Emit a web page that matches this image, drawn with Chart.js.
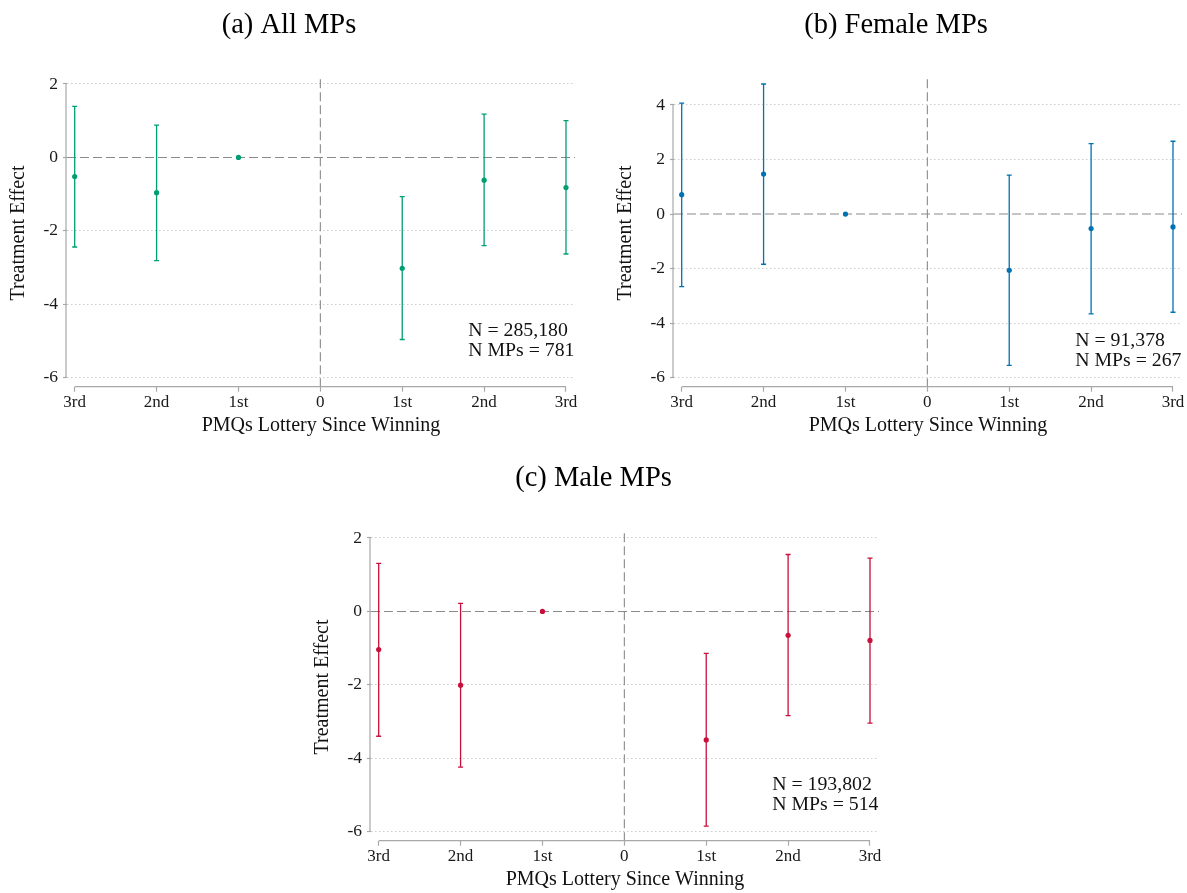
<!DOCTYPE html>
<html>
<head>
<meta charset="utf-8">
<script src="https://cdn.jsdelivr.net/npm/chart.js@4.4.1/dist/chart.umd.min.js"></script>
<style>
html,body{margin:0;padding:0;background:#fff;}
body{width:1187px;height:893px;position:relative;overflow:hidden;}
canvas{position:absolute;}
</style>
</head>
<body>
<canvas id="ca" width="584" height="442" style="left:3px;top:0px"></canvas>
<canvas id="cb" width="577" height="442" style="left:610px;top:0px"></canvas>
<canvas id="cc" width="590" height="443" style="left:308px;top:450px"></canvas>
<script>
// ---------- data ----------
const stepTicks  = [-3, -2, -1, 0, 1, 2, 3];
const stepLabels = ['3rd', '2nd', '1st', '0', '1st', '2nd', '3rd'];
const leadLag    = [-3, -2, -1, 1, 2, 3];

const allEst = [-0.52, -0.96, 0, -3.02, -0.62, -0.82];
const allLo  = [-2.44, -2.81, 0, -4.96, -2.40, -2.63];
const allHi  = [ 1.39,  0.88, 0, -1.07,  1.18,  1.00];

const femEst = [ 0.71,  1.47, 0, -2.06, -0.53, -0.47];
const femLo  = [-2.66, -1.84, 0, -5.55, -3.66, -3.60];
const femHi  = [ 4.07,  4.77, 0,  1.43,  2.58,  2.67];

const maleEst = [-1.04, -2.01, 0, -3.50, -0.65, -0.79];
const maleLo  = [-3.40, -4.24, 0, -5.85, -2.84, -3.04];
const maleHi  = [ 1.31,  0.22, 0, -1.14,  1.55,  1.45];

const yTicksAll    = [-6, -4, -2, 0, 2];
const yTicksFemale = [-6, -4, -2, 0, 2, 4];
const yTicksMale   = [-6, -4, -2, 0, 2];

const titles = ['(a) All MPs', '(b) Female MPs', '(c) Male MPs'];
const noteAll    = ['N = 285,180', 'N MPs = 781'];
const noteFemale = ['N = 91,378', 'N MPs = 267'];
const noteMale   = ['N = 193,802', 'N MPs = 514'];
const xTitle = 'PMQs Lottery Since Winning';
const yTitle = 'Treatment Effect';

// ---------- drawing ----------
const FONT = 'Liberation Serif';

const decor = {
  id: 'decor',
  beforeDatasetsDraw(chart, args, opts) {
    const {ctx, chartArea: a, scales: {x, y}} = chart;
    ctx.save();
    // reference lines
    ctx.strokeStyle = '#8a8a8a';
    ctx.lineWidth = 1.1;
    ctx.setLineDash([9, 4]);
    const y0 = y.getPixelForValue(0);
    ctx.beginPath(); ctx.moveTo(a.left, y0); ctx.lineTo(a.right, y0); ctx.stroke();
    const x0 = x.getPixelForValue(0);
    ctx.beginPath(); ctx.moveTo(x0, a.top); ctx.lineTo(x0, a.bottom); ctx.stroke();
    ctx.setLineDash([]);
    // axis lines (span tick range only)
    ctx.strokeStyle = '#a8a8a8';
    ctx.lineWidth = 1.2;
    const yt = y.ticks, xt = x.ticks;
    ctx.beginPath();
    ctx.moveTo(a.left - 1, y.getPixelForValue(yt[0].value));
    ctx.lineTo(a.left - 1, y.getPixelForValue(yt[yt.length - 1].value));
    ctx.stroke();
    ctx.beginPath();
    ctx.moveTo(x.getPixelForValue(xt[0].value), a.bottom);
    ctx.lineTo(x.getPixelForValue(xt[xt.length - 1].value), a.bottom);
    ctx.stroke();
    // error bars
    chart.data.datasets.forEach(ds => {
      ctx.strokeStyle = ds.borderColor;
      ctx.lineWidth = 1.3;
      ds.data.forEach(p => {
        if (p.lo === p.hi) return;
        const px = x.getPixelForValue(p.x);
        const pl = y.getPixelForValue(p.lo);
        const ph = y.getPixelForValue(p.hi);
        ctx.beginPath();
        ctx.moveTo(px, pl); ctx.lineTo(px, ph);
        ctx.moveTo(px - 2.5, pl); ctx.lineTo(px + 2.5, pl);
        ctx.moveTo(px - 2.5, ph); ctx.lineTo(px + 2.5, ph);
        ctx.stroke();
      });
    });
    ctx.restore();
  },
  afterDatasetsDraw(chart, args, opts) {
    const {ctx, scales: {x, y}} = chart;
    const lines = opts.note;
    ctx.save();
    ctx.font = '19.8px "' + FONT + '"';
    ctx.fillStyle = '#111';
    ctx.textBaseline = 'middle';
    ctx.textAlign = 'left';
    let w = 0;
    lines.forEach(t => { w = Math.max(w, ctx.measureText(t).width); });
    const right = x.getPixelForValue(3) + 8.5;
    const cy = y.getPixelForValue(-5);
    const lh = 20;
    lines.forEach((t, i) => {
      ctx.fillText(t, right - w, cy + (i - (lines.length - 1) / 2) * lh);
    });
    ctx.restore();
  }
};

function makePanel(id, cfg) {
  const data = leadLag.map((v, i) => ({x: v, y: cfg.est[i], lo: cfg.lo[i], hi: cfg.hi[i]}));
  return new Chart(document.getElementById(id), {
    type: 'scatter',
    data: {
      datasets: [{
        data: data,
        borderColor: cfg.color,
        backgroundColor: cfg.color,
        pointRadius: 2.6,
        pointBorderWidth: 0,
        pointBackgroundColor: cfg.color,
        showLine: false
      }]
    },
    options: {
      responsive: false,
      animation: false,
      devicePixelRatio: 1,
      layout: {padding: {left: 0, right: cfg.padRight, top: 0, bottom: 0}},
      plugins: {
        legend: {display: false},
        tooltip: {enabled: false},
        title: {
          display: true,
          text: cfg.title,
          color: '#000',
          font: {family: FONT, size: 28.5, weight: 'normal'},
          padding: {top: cfg.titleTop, bottom: cfg.titleBottom}
        },
        decor: {note: cfg.note}
      },
      scales: {
        x: {
          type: 'linear',
          bounds: 'data',
          min: -3.094,
          max: 3.11,
          afterBuildTicks: s => { s.ticks = stepTicks.map(v => ({value: v})); },
          afterFit: s => { s.height = cfg.xHeight; },
          ticks: {
            autoSkip: false,
            maxRotation: 0,
            padding: 1,
            color: '#1a1a1a',
            font: {family: FONT, size: 17},
            callback: (v, i) => stepLabels[i]
          },
          grid: {
            display: true,
            drawOnChartArea: false,
            drawTicks: true,
            tickLength: 5,
            tickColor: '#a8a8a8',
            tickWidth: 1.2
          },
          border: {display: false},
          title: {
            display: true,
            text: xTitle,
            color: '#111',
            font: {family: FONT, size: 20},
            padding: {top: 0, bottom: cfg.xTitleBottom}
          }
        },
        y: {
          type: 'linear',
          bounds: 'data',
          min: cfg.ymin,
          max: cfg.ymax,
          afterBuildTicks: s => { s.ticks = cfg.yTicks.map(v => ({value: v})); },
          afterFit: s => { s.width = cfg.yWidth; },
          ticks: {
            padding: 5,
            color: '#1a1a1a',
            font: {family: FONT, size: 17.5},
            callback: v => String(v)
          },
          grid: {
            display: true,
            drawOnChartArea: true,
            drawTicks: true,
            tickLength: 4,
            lineWidth: 1,
            color: c => (c.tick && c.tick.value === 0) ? 'rgba(0,0,0,0)' : '#cdcdcd',
            tickColor: '#a8a8a8',
            tickWidth: 1.2,
            tickBorderDash: []
          },
          border: {display: false, dash: [1.5, 2.5]},
          title: {
            display: true,
            text: yTitle,
            color: '#111',
            font: {family: FONT, size: 20},
            padding: {top: cfg.yTitleTop, bottom: 0}
          }
        }
      }
    },
    plugins: [decor]
  });
}

makePanel('ca', {
  title: titles[0], est: allEst, lo: allLo, hi: allHi, color: '#009E73',
  yTicks: yTicksAll, ymin: -6.245, ymax: 2.128, note: noteAll,
  padRight: 12, yWidth: 64, xHeight: 55.3,
  titleTop: 8.7, titleBottom: 36.4, xTitleBottom: 4.2, yTitleTop: 4
});
makePanel('cb', {
  title: titles[1], est: femEst, lo: femLo, hi: femHi, color: '#0072B2',
  yTicks: yTicksFemale, ymin: -6.33, ymax: 4.942, note: noteFemale,
  padRight: 5, yWidth: 64, xHeight: 55.3,
  titleTop: 8.7, titleBottom: 36.4, xTitleBottom: 4.2, yTitleTop: 4
});
makePanel('cc', {
  title: titles[2], est: maleEst, lo: maleLo, hi: maleHi, color: '#C8103C',
  yTicks: yTicksMale, ymin: -6.245, ymax: 2.128, note: noteMale,
  padRight: 19, yWidth: 63, xHeight: 52.3,
  titleTop: 11.7, titleBottom: 37.4, xTitleBottom: 1.0, yTitleTop: 3
});
</script>
</body>
</html>
